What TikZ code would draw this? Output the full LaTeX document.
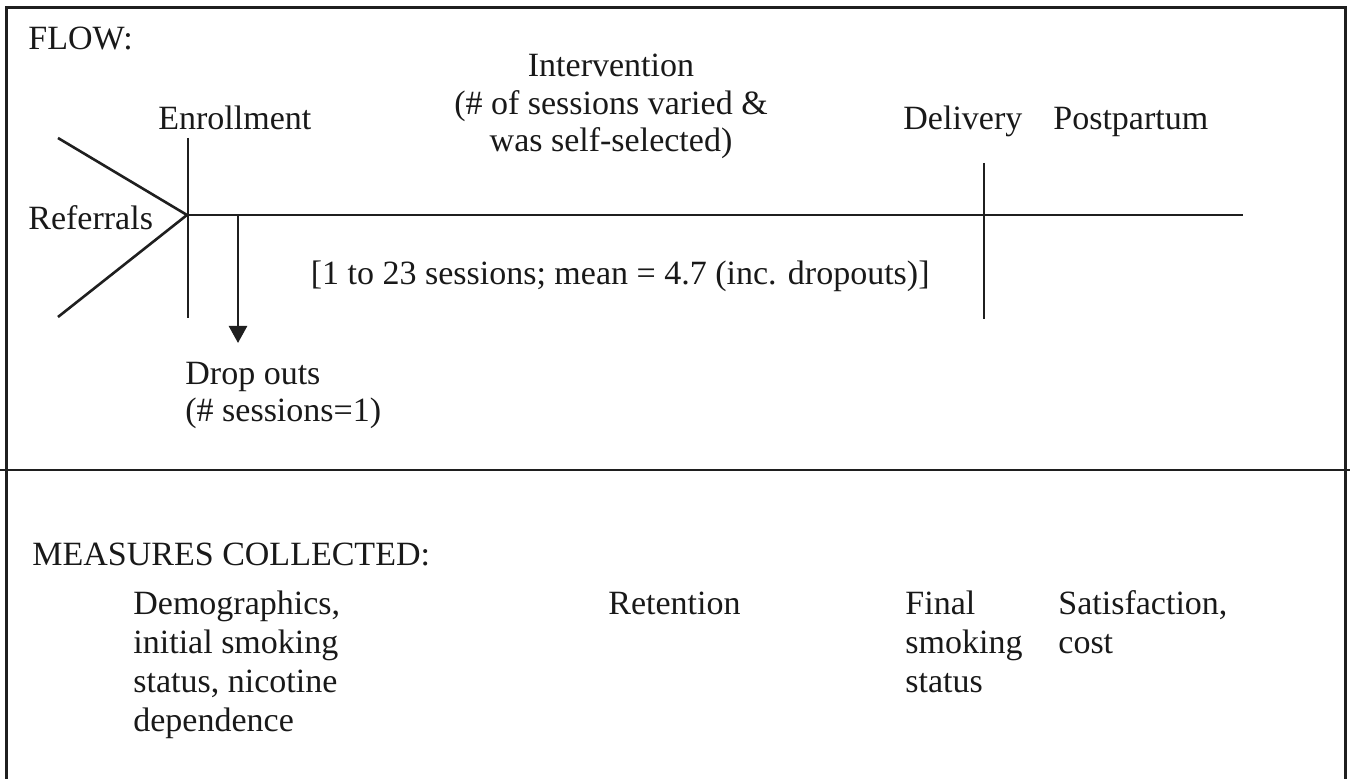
\documentclass[tikz,border=0pt]{standalone}
\usepackage{fontspec}
\setmainfont{Liberation Serif}
\usetikzlibrary{arrows.meta}
\begin{document}
\begin{tikzpicture}[x=0.5pt,y=-0.5pt,
  txt/.style={font=\fontsize{17}{18.75}\selectfont, inner sep=0pt, anchor=base west, align=left, text=black!90},
  txtb/.style={txt, font=\fontsize{17}{19.5}\selectfont},
  ln/.style={line width=1.3pt, draw=black!88},
  frame/.style={line width=1.5pt, draw=black!88}]
\useasboundingbox (0,0) rectangle (1350,779);
% frame and divider
\draw[frame] (6,779) -- (6,8) -- (1345,8) -- (1345,779);
\coordinate (divL) at (0,470);
\coordinate (divR) at (1350,470);
\draw[ln] (divL) -- (divR);
% flow texts (multi-line nodes are placed by the baseline of their last line)
\node[txt] (flow) at (28,50) {FLOW:};
\node[txt] (enr) at (158,130) {Enrollment};
\node[txt, anchor=base, align=center] (int) at (611,152) {Intervention\\(\# of sessions varied \&\\was self-selected)};
\node[txt] (del) at (903,130) {Delivery};
\node[txt] (post) at (1053,130) {Postpartum};
\node[txt] (ref) at (28,230) {Referrals};
\node[txt, anchor=base east] (mean) at (930,285) {[1 to 23 sessions; mean = 4.7 (inc. dropouts)]};
\node[txt] (drop) at (185,422) {Drop outs\\(\# sessions=1)};
% flow lines
\coordinate (conv) at (187,215);
\coordinate (vtop) at (58,138);
\coordinate (vbot) at (58,317);
\coordinate (mainR) at (1243,215);
\coordinate (enrT) at (188,138);
\coordinate (enrB) at (188,318);
\coordinate (dropS) at (238,215);
\coordinate (dropE) at (238,343);
\coordinate (delT) at (984,163);
\coordinate (delB) at (984,319);
\draw[ln] (vtop) -- (conv) -- (vbot);
\draw[ln] (conv) -- (mainR);
\draw[ln] (enrT) -- (enrB);
\draw[ln, -{Triangle[width=9pt,length=8.5pt]}] (dropS) -- (dropE);
\draw[ln] (delT) -- (delB);
% measures
\node[txt] (meas) at (32,566) {MEASURES COLLECTED:};
\node[txtb] (demo) at (133,732) {Demographics,\\initial smoking\\status, nicotine\\dependence};
\node[txtb] (ret) at (608,615) {Retention};
\node[txtb] (fin) at (905,693) {Final\\smoking\\status};
\node[txtb] (sat) at (1058,654) {Satisfaction,\\cost};
\end{tikzpicture}
\end{document}
